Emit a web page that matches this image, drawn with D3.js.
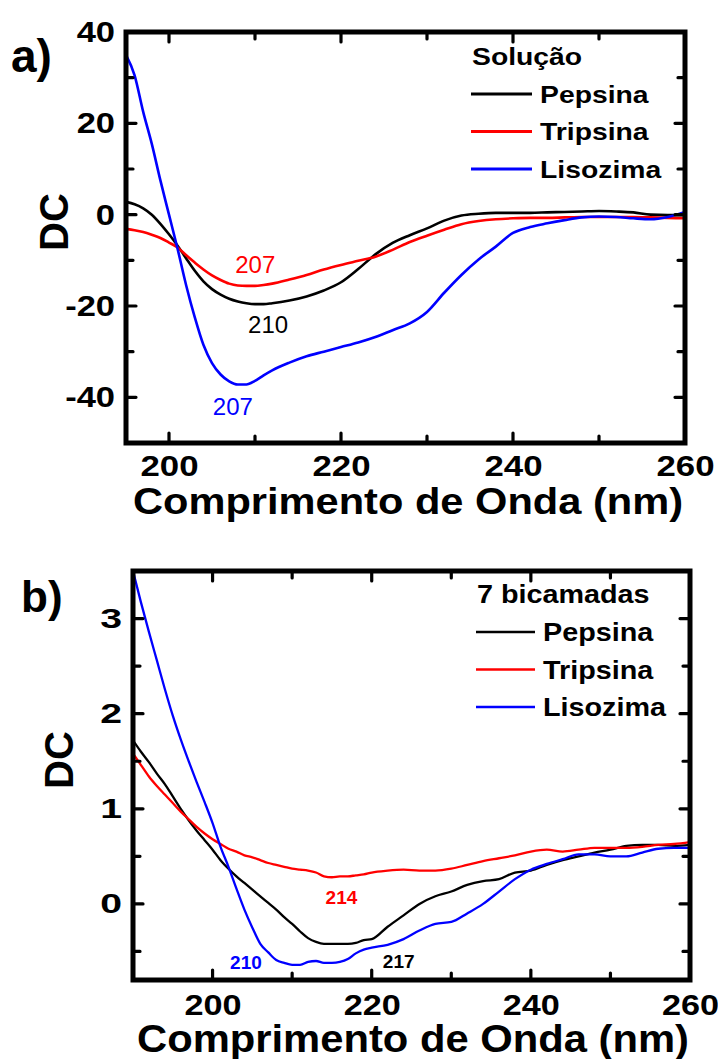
<!DOCTYPE html>
<html><head><meta charset="utf-8">
<script src="https://cdn.jsdelivr.net/npm/d3@7"></script>
<style>body{margin:0;background:#fff} svg{display:block} text{font-family:"Liberation Sans",Arial,sans-serif;}</style>
</head><body>
<svg id="chart" width="718" height="1059"></svg>
<script>
// ---------- DATA ----------
const seriesNames = ["Pepsina", "Tripsina", "Lisozima"];
const seriesColors = ["#000000", "#ff0000", "#0000ff"];

// Panel a) Solução
const aWavelength = [195,196,197,198,199,200,201,202,203,204,205,206,207,208,209,210,211,212,214,216,218,220,222,224,226,228,230,232,234,236,238,240,242,244,246,248,250,252,254,256,258,260];
const aPepsina  = [2.8,2.3,1.4,0,-2,-4.3,-6.8,-9.6,-12.3,-14.6,-16.3,-17.5,-18.4,-19.0,-19.4,-19.6,-19.6,-19.4,-18.8,-17.9,-16.6,-14.8,-11.9,-8.7,-6.2,-4.5,-3.0,-1.3,-0.2,0.2,0.4,0.4,0.4,0.5,0.6,0.7,0.8,0.7,0.5,0,-0.1,-0.1];
const aTripsina = [-3.1,-3.4,-3.8,-4.4,-5.1,-6.1,-7.2,-8.9,-10.5,-12.0,-13.3,-14.3,-15.1,-15.5,-15.6,-15.6,-15.4,-15.1,-14.2,-13.2,-12.0,-11.0,-10.1,-9.2,-7.7,-6.0,-4.6,-3.3,-2.1,-1.4,-1.0,-0.8,-0.7,-0.7,-0.6,-0.5,-0.5,-0.5,-0.5,-0.6,-0.7,-0.8];
const aLisozima = [35,30.5,22.5,15.5,7.5,0,-7.5,-15.5,-22.5,-28.5,-32.5,-35,-36.5,-37.2,-37.2,-36.4,-35.2,-34.1,-32.4,-31,-30,-29,-28,-26.8,-25.3,-23.8,-21.3,-17.1,-13.2,-9.8,-7.0,-4.0,-2.7,-1.9,-1.2,-0.6,-0.4,-0.5,-0.8,-1.0,-0.5,0.6];
const aXTicks = [200,220,240,260];
const aXMinor = [210,230,250];
const aYTicks = [-40,-20,0,20,40];
const aYMinor = [-30,-10,10,30];
const aPeakLabels = ["207","210","207"];      // Tripsina, Pepsina, Lisozima
const aPeakX = [207.7,209.2,205.1];
const aPeakY = [-12.8,-25.9,-43.9];
const aPeakColors = ["#ff0000","#000000","#0000ff"];

// Panel b) 7 bicamadas
const bWavelength = [190,191,192,193,194,195,196,197,198,199,200,201,202,203,204,205,206,207,208,209,210,211,212,213,214,215,216,217,218,219,220,222,224,226,228,230,232,234,236,238,240,242,244,246,248,250,252,254,256,258,260];
const bPepsina  = [1.72,1.6,1.49,1.37,1.26,1.13,1.0,0.88,0.77,0.67,0.57,0.46,0.37,0.29,0.22,0.15,0.08,0.01,-0.06,-0.14,-0.21,-0.29,-0.36,-0.4,-0.42,-0.42,-0.42,-0.42,-0.41,-0.38,-0.37,-0.24,-0.12,0.0,0.08,0.13,0.2,0.24,0.26,0.33,0.35,0.41,0.46,0.5,0.54,0.57,0.61,0.62,0.62,0.61,0.62];
const bTripsina = [1.58,1.46,1.34,1.24,1.15,1.06,0.97,0.89,0.81,0.74,0.68,0.63,0.58,0.55,0.51,0.49,0.46,0.43,0.41,0.39,0.37,0.36,0.35,0.33,0.29,0.28,0.29,0.29,0.3,0.31,0.33,0.35,0.36,0.35,0.35,0.37,0.41,0.45,0.48,0.51,0.55,0.57,0.55,0.57,0.59,0.59,0.59,0.6,0.62,0.63,0.65];
const bLisozima = [3.5,3.17,2.86,2.56,2.26,1.98,1.73,1.5,1.28,1.07,0.85,0.6,0.39,0.16,-0.06,-0.25,-0.42,-0.51,-0.59,-0.62,-0.64,-0.64,-0.61,-0.6,-0.62,-0.62,-0.61,-0.58,-0.52,-0.48,-0.46,-0.43,-0.37,-0.28,-0.21,-0.19,-0.1,0.0,0.13,0.26,0.36,0.42,0.47,0.52,0.52,0.5,0.5,0.54,0.58,0.59,0.59];
const bXTicks = [200,220,240,260];
const bXMinor = [210,230,250];
const bYTicks = [0,1,2,3];
const bYMinor = [-0.5,0.5,1.5,2.5];
const bPeakLabels = ["214","210","217"];      // Tripsina, Lisozima, Pepsina
const bPeakX = [214.2,202.2,221.4];
const bPeakY = [0.0,-0.68,-0.67];
const bPeakColors = ["#ff0000","#0000ff","#000000"];

// ---------- DRAWING ----------
const svg = d3.select("#chart");

function stretch(sel, sx) {
  sel.each(function () {
    const L = this.getComputedTextLength();
    this.setAttribute("textLength", L * sx);
    this.setAttribute("lengthAdjust", "spacingAndGlyphs");
  });
}

function drawPanel(cfg) {
  const g = svg.append("g");
  const x = d3.scaleLinear().domain(cfg.xDomain).range([cfg.left, cfg.right]);
  const y = d3.scaleLinear().domain(cfg.yDomain).range([cfg.bottom, cfg.top]);

  const clipId = "clip-" + cfg.id;
  g.append("clipPath").attr("id", clipId).append("rect")
    .attr("x", cfg.left).attr("y", cfg.top)
    .attr("width", cfg.right - cfg.left).attr("height", cfg.bottom - cfg.top);

  // series lines
  const line = d3.line().x(d => x(d[0])).y(d => y(d[1])).curve(d3.curveMonotoneX);
  const lines = g.append("g").attr("clip-path", `url(#${clipId})`);
  cfg.series.forEach((vals, i) => {
    const pts = cfg.wavelength.map((w, j) => [w, vals[j]]);
    lines.append("path").datum(pts)
      .attr("d", line).attr("fill", "none")
      .attr("stroke", seriesColors[i]).attr("stroke-width", cfg.lineWidth)
      .attr("stroke-linejoin", "round");
  });

  // frame
  g.append("rect").attr("x", cfg.left).attr("y", cfg.top)
    .attr("width", cfg.right - cfg.left).attr("height", cfg.bottom - cfg.top)
    .attr("fill", "none").attr("stroke", "#000").attr("stroke-width", 5);

  // tick marks (inward on all four sides), built from the scales
  const major = 10, minor = 7;
  let d = "";
  [[cfg.xTicks, major], [cfg.xMinor, minor]].forEach(([vals, len]) => {
    vals.forEach(v => {
      const px = x(v);
      d += `M${px},${cfg.bottom}V${cfg.bottom - len}`;
      d += `M${px},${cfg.top}V${cfg.top + len}`;
    });
  });
  [[cfg.yTicks, major], [cfg.yMinor, minor]].forEach(([vals, len]) => {
    vals.forEach(v => {
      const py = y(v);
      d += `M${cfg.left},${py}H${cfg.left + len}`;
      d += `M${cfg.right},${py}H${cfg.right - len}`;
    });
  });
  g.append("path").attr("d", d).attr("fill", "none")
    .attr("stroke", "#000").attr("stroke-width", 3.2).attr("stroke-linecap", "round");

  // tick labels via d3 axes
  const fmt = v => String(v);
  const xb = g.append("g").attr("transform", `translate(0,${cfg.bottom})`)
    .call(d3.axisBottom(x).tickValues(cfg.xTicks).tickSize(0).tickPadding(cfg.xPad).tickFormat(fmt));
  xb.select(".domain").remove();
  xb.selectAll(".tick line").remove();
  xb.selectAll("text").style("font-family", '"Liberation Sans",Arial,sans-serif')
    .style("font-size", cfg.xFont + "px").style("font-weight", "bold").attr("fill", "#000");
  stretch(xb.selectAll("text"), cfg.xSx);

  const yl = g.append("g").attr("transform", `translate(${cfg.left},0)`)
    .call(d3.axisLeft(y).tickValues(cfg.yTicks).tickSize(0).tickPadding(cfg.yPad).tickFormat(fmt));
  yl.select(".domain").remove();
  yl.selectAll(".tick line").remove();
  yl.selectAll("text").style("font-family", '"Liberation Sans",Arial,sans-serif')
    .style("font-size", cfg.yFont + "px").style("font-weight", "bold").attr("fill", "#000");
  stretch(yl.selectAll("text"), cfg.ySx);

  // peak annotations
  cfg.peaks.labels.forEach((t, i) => {
    g.append("text").attr("x", x(cfg.peaks.x[i])).attr("y", y(cfg.peaks.y[i]))
      .attr("fill", cfg.peaks.colors[i]).style("font-size", cfg.peakFont + "px")
      .style("font-weight", cfg.peakWeight).text(t);
  });

  // x title
  g.append("text").attr("x", cfg.xTitleX).attr("y", cfg.xTitleY)
    .attr("text-anchor", "middle").style("font-size", cfg.xTitleFont + "px").style("font-weight", "bold")
    .attr("textLength", cfg.xTitleW).attr("lengthAdjust", "spacingAndGlyphs")
    .text("Comprimento de Onda (nm)");

  // y title
  g.append("text").attr("transform", `translate(${cfg.yTitleX},${cfg.yTitleY}) rotate(-90)`)
    .attr("text-anchor", "middle").style("font-size", "40px").style("font-weight", "bold").text("DC");

  // panel letter
  g.append("text").attr("x", cfg.letterX).attr("y", cfg.letterY)
    .style("font-size", cfg.letterFont + "px").style("font-weight", "bold").text(cfg.letter);

  // legend
  const lg = g.append("g");
  const lt = lg.append("text").attr("x", cfg.legend.x).attr("y", cfg.legend.titleY)
    .style("font-size", cfg.legend.font + "px").style("font-weight", "bold").text(cfg.legend.title);
  stretch(lt, cfg.legend.sx);
  seriesNames.forEach((n, i) => {
    const yy = cfg.legend.rowY + i * cfg.legend.rowH;
    lg.append("line").attr("x1", cfg.legend.lineX1).attr("x2", cfg.legend.lineX2)
      .attr("y1", yy).attr("y2", yy).attr("stroke", seriesColors[i]).attr("stroke-width", cfg.legend.lw);
    const t = lg.append("text").attr("x", cfg.legend.textX).attr("y", yy + cfg.legend.font * 0.36)
      .style("font-size", cfg.legend.font + "px").style("font-weight", "bold").text(n);
    stretch(t, cfg.legend.sx);
  });
}

drawPanel({
  id: "a", left: 126, right: 685, top: 32, bottom: 443,
  xDomain: [195, 260], yDomain: [-50, 40],
  wavelength: aWavelength, series: [aPepsina, aTripsina, aLisozima], lineWidth: 2.6,
  xTicks: aXTicks, xMinor: aXMinor, yTicks: aYTicks, yMinor: aYMinor,
  xPad: 12, yPad: 11, xFont: 29, xSx: 1.2, yFont: 30, ySx: 1.15,
  peaks: { labels: aPeakLabels, x: aPeakX, y: aPeakY, colors: aPeakColors },
  peakFont: 24, peakWeight: "normal",
  xTitleX: 408, xTitleY: 514, xTitleFont: 36, xTitleW: 550,
  yTitleX: 68, yTitleY: 222,
  letter: "a)", letterX: 11, letterY: 72, letterFont: 46,
  legend: { title: "Solução", x: 472, titleY: 65, rowY: 94, rowH: 37.5, lineX1: 471, lineX2: 532,
            textX: 540, font: 24, sx: 1.18, lw: 3 }
});

drawPanel({
  id: "b", left: 133, right: 690, top: 571, bottom: 980,
  xDomain: [190, 260], yDomain: [-0.8, 3.5],
  wavelength: bWavelength, series: [bPepsina, bTripsina, bLisozima], lineWidth: 2.3,
  xTicks: bXTicks, xMinor: bXMinor, yTicks: bYTicks, yMinor: bYMinor,
  xPad: 14, yPad: 11, xFont: 29, xSx: 1.18, yFont: 27, ySx: 1.45,
  peaks: { labels: bPeakLabels, x: bPeakX, y: bPeakY, colors: bPeakColors },
  peakFont: 19, peakWeight: "bold",
  xTitleX: 413, xTitleY: 1052, xTitleFont: 38, xTitleW: 552,
  yTitleX: 73, yTitleY: 760,
  letter: "b)", letterX: 21, letterY: 612, letterFont: 44,
  legend: { title: "7 bicamadas", x: 477, titleY: 603, rowY: 632, rowH: 37.5, lineX1: 476, lineX2: 535,
            textX: 543, font: 25, sx: 1.15, lw: 2.5 }
});
</script>
</body></html>
